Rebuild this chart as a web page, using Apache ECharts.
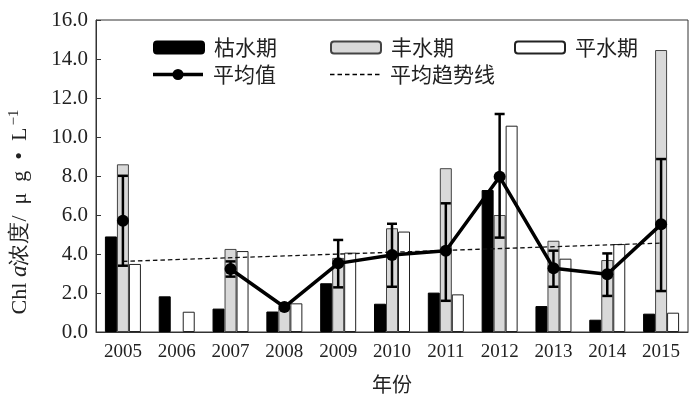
<!DOCTYPE html>
<html>
<head>
<meta charset="utf-8">
<script src="https://cdn.jsdelivr.net/npm/echarts@6/dist/echarts.min.js"></script>
<style>
  html, body { margin: 0; padding: 0; background: #fff; }
  #chart { width: 700px; height: 399px; }
</style>
</head>
<body>
<div id="chart"></div>
<script>
const years = ['2005', '2006', '2007', '2008', '2009', '2010', '2011', '2012', '2013', '2014', '2015']
const dryValues = [4.9, 1.83, 1.2, 1.05, 2.5, 1.45, 2.02, 7.28, 1.33, 0.63, 0.94]
const wetValues = [8.6, null, 4.26, 1.25, 3.8, 5.32, 8.4, 6.0, 4.68, 3.69, 14.46]
const normalValues = [3.49, 1.04, 4.15, 1.47, 4.07, 5.15, 1.93, 10.58, 3.76, 4.51, 0.99]
const meanValues = [5.71, null, 3.23, 1.28, 3.52, 3.95, 4.17, 7.96, 3.27, 2.96, 5.52]
const errLow = [3.4, null, 2.84, 1.18, 2.29, 2.32, 1.6, 4.84, 2.32, 1.85, 2.1]
const errHigh = [8.01, null, 3.62, 1.4, 4.72, 5.55, 6.6, 11.18, 4.17, 4.03, 8.87]
const trendValues = [3.62, null, null, null, null, null, null, null, null, null, 4.56]

const SERIF = '"Liberation Serif", "DejaVu Serif", serif'
const CJK = '"Noto Sans CJK SC", sans-serif'

const chart = echarts.init(document.getElementById('chart'))

const errData = years.map((y, i) => (errLow[i] == null ? null : [i, errLow[i], errHigh[i]])).filter(Boolean)

// 单个图例各自定位
const legendBase = {
  itemWidth: 50,
  itemHeight: 12,
  itemGap: 0,
  textStyle: { fontFamily: CJK, fontSize: 21, color: '#222', padding: [0, 0, 0, 5] }
}

const meanIcon = 'image://data:image/svg+xml;utf8,' + encodeURIComponent('<svg xmlns="http://www.w3.org/2000/svg" width="50" height="14"><line x1="0" y1="7" x2="50" y2="7" stroke="black" stroke-width="3.5"/><circle cx="25" cy="7" r="5.5" fill="black"/></svg>')
const trendIcon = 'image://data:image/svg+xml;utf8,' + encodeURIComponent('<svg xmlns="http://www.w3.org/2000/svg" width="50" height="14"><line x1="0" y1="7" x2="50" y2="7" stroke="black" stroke-width="1.3" stroke-dasharray="4.5,3"/></svg>')

const option = {
  backgroundColor: '#fff',
  animation: false,
  legend: [
    { ...legendBase, left: 148, top: 32, data: ['枯水期'] },
    { ...legendBase, left: 325, top: 32, data: ['丰水期'] },
    { ...legendBase, left: 509, top: 32, data: ['平水期'] },
    { ...legendBase, left: 148, top: 59, itemHeight: 14, data: [{ name: '平均值', icon: meanIcon }] },
    { ...legendBase, left: 325, top: 59, itemHeight: 14, data: [{ name: '平均趋势线', icon: trendIcon }] }
  ],
  graphic: [
    {
      type: 'text',
      x: 20,
      y: 212,
      rotation: Math.PI / 2,
      style: {
        text: 'Chl {i|a}浓度/  μ  g  •  L{sup|−1}',
        fontFamily: SERIF,
        fontSize: 22,
        fill: '#222',
        align: 'center',
        verticalAlign: 'middle',
        rich: {
          i: { fontFamily: SERIF, fontStyle: 'italic', fontSize: 23, fill: '#222' },
          sup: { fontFamily: SERIF, fontSize: 15, fill: '#222', padding: [0, 0, 12, 2] }
        }
      }
    }
  ],
  grid: {
    left: 96, right: 12, top: 20, bottom: 67,
    show: true, borderColor: '#333', borderWidth: 1
  },
  xAxis: {
    type: 'category',
    data: years,
    name: '年份',
    nameLocation: 'middle',
    nameGap: 42,
    nameTextStyle: { fontFamily: CJK, fontSize: 20, color: '#222' },
    axisLine: { lineStyle: { color: '#333', width: 1 } },
    axisTick: { inside: true, length: 6, lineStyle: { color: '#333' } },
    axisLabel: { fontFamily: SERIF, fontSize: 19, color: '#222', margin: 11 }
  },
  yAxis: {
    type: 'value',
    min: 0,
    max: 16,
    interval: 2,
    splitLine: { show: false },
    axisLine: { show: true, lineStyle: { color: '#333', width: 1 } },
    axisTick: { show: true, inside: true, length: 5, lineStyle: { color: '#333' } },
    axisLabel: { fontFamily: SERIF, fontSize: 21, color: '#222', margin: 8, formatter: (v) => v.toFixed(1) }
  },
  series: [
    {
      name: '枯水期', type: 'bar', barWidth: 12, barGap: '0%',
      itemStyle: { color: '#000', borderColor: '#000', borderWidth: 1 },
      data: dryValues, z: 2
    },
    {
      name: '丰水期', type: 'bar', barWidth: 12, barGap: '0%',
      itemStyle: { color: '#d9d9d9', borderColor: '#444', borderWidth: 1 },
      data: wetValues, z: 2
    },
    {
      name: '平水期', type: 'bar', barWidth: 12, barGap: '0%',
      itemStyle: { color: '#fff', borderColor: '#222', borderWidth: 1 },
      data: normalValues, z: 2
    },
    {
      name: '平均趋势线', type: 'line', data: trendValues, connectNulls: true,
      symbol: 'none', lineStyle: { color: '#111', width: 1.3, type: [4.5, 3] },
      itemStyle: { color: '#111' }, z: 3
    },
    {
      name: 'err', type: 'custom', z: 4,
      renderItem: (params, api) => {
        const x = api.value(0)
        const lo = api.coord([x, api.value(1)])
        const hi = api.coord([x, api.value(2)])
        const w = 5
        const style = { stroke: '#000', lineWidth: 2.5 }
        return {
          type: 'group',
          children: [
            { type: 'line', shape: { x1: lo[0], y1: lo[1], x2: hi[0], y2: hi[1] }, style },
            { type: 'line', shape: { x1: lo[0] - w, y1: lo[1], x2: lo[0] + w, y2: lo[1] }, style },
            { type: 'line', shape: { x1: hi[0] - w, y1: hi[1], x2: hi[0] + w, y2: hi[1] }, style }
          ]
        }
      },
      data: errData
    },
    {
      name: '平均值', type: 'line', data: meanValues, connectNulls: false,
      symbol: 'circle', symbolSize: 12,
      lineStyle: { color: '#000', width: 3.5 },
      itemStyle: { color: '#000' }, z: 5
    }
  ]
}

chart.setOption(option)
</script>
</body>
</html>
